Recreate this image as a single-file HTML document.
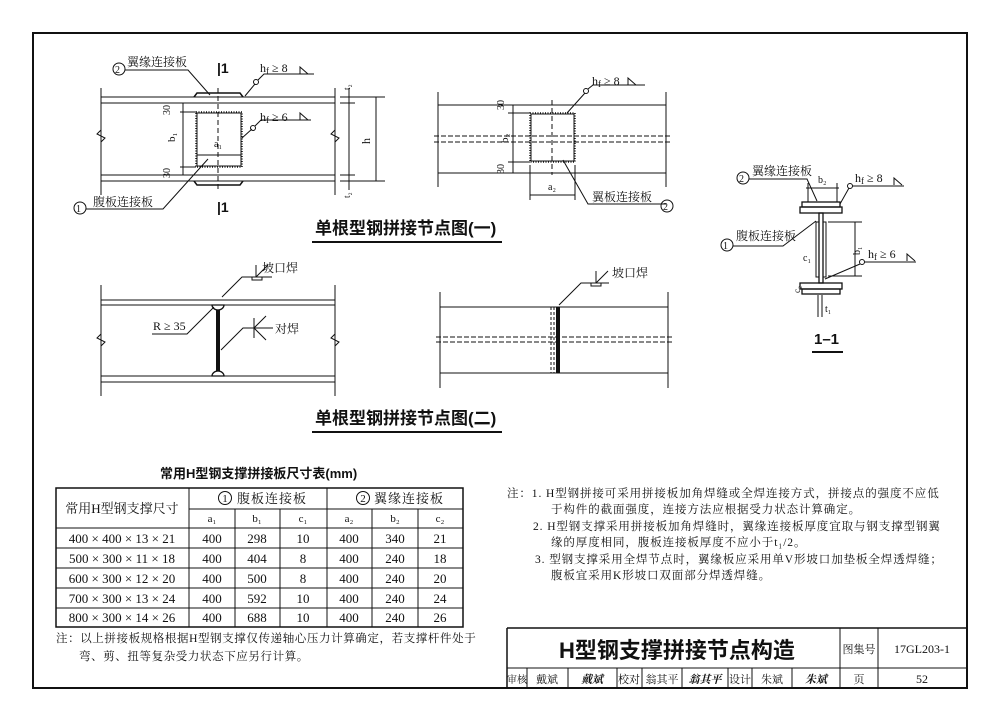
<!DOCTYPE html>
<html><head><meta charset="utf-8"><style>
body{margin:0;background:#fff}
svg{display:block}
text{font-family:"Liberation Serif","Noto Serif CJK SC","Noto Sans CJK SC",serif;fill:#111}
.s{font-family:"Liberation Sans","Noto Sans CJK SC",sans-serif}
</style></head><body>
<svg width="1000" height="721" viewBox="0 0 1000 721" xmlns="http://www.w3.org/2000/svg" stroke="#111" fill="none" stroke-width="1">
<rect x="33" y="33" width="934" height="655" stroke-width="2"/>

<!-- FIG 1 LEFT -->
<g>
<line x1="101" y1="97" x2="335" y2="97"/><line x1="101" y1="103" x2="335" y2="103"/>
<line x1="101" y1="175" x2="335" y2="175"/><line x1="101" y1="181" x2="335" y2="181"/>
<line x1="101" y1="88" x2="101" y2="195"/><line x1="335" y1="88" x2="335" y2="195"/>
<path d="M101 130 l-4 4 l8 4 l-4 4"/><path d="M335 130 l-4 4 l8 4 l-4 4"/>
<path d="M194 97 l3 -4 h43 l3 4" stroke-width="1.5"/><path d="M194 181 l3 4 h43 l3 -4" stroke-width="1.5"/>
<rect x="196" y="112" width="46" height="55" stroke-width="1.5" stroke-dasharray="1 1.5"/>
<rect x="197" y="113" width="44" height="53"/>
<line x1="218" y1="88" x2="218" y2="190" stroke-dasharray="5 3"/>
<line x1="183" y1="103" x2="183" y2="175"/>
<line x1="180" y1="112" x2="196" y2="112"/><line x1="180" y1="167" x2="196" y2="167"/>
<line x1="197" y1="155" x2="241" y2="155"/>
<text x="170" y="115" font-size="10" transform="rotate(-90 170 115)" stroke="none">30</text>
<text x="170" y="178" font-size="10" transform="rotate(-90 170 178)" stroke="none">30</text>
<text x="175" y="142" font-size="11" transform="rotate(-90 175 142)" stroke="none">b₁</text>
<text x="214" y="147" font-size="10" stroke="none">a₁</text>
<line x1="376" y1="97" x2="376" y2="181"/>
<line x1="340" y1="97" x2="385" y2="97"/><line x1="340" y1="181" x2="385" y2="181"/>
<line x1="340" y1="103" x2="355" y2="103"/><line x1="340" y1="175" x2="355" y2="175"/>
<line x1="349" y1="88" x2="349" y2="190"/>
<text x="370" y="144" font-size="12" transform="rotate(-90 370 144)" stroke="none">h</text>
<text x="350" y="90" font-size="9" transform="rotate(-90 350 90)" stroke="none">t₂</text>
<text x="350" y="198" font-size="9" transform="rotate(-90 350 198)" stroke="none">t₂</text>
<text x="217" y="73" font-size="14" stroke="none" class="s" font-weight="bold">|1</text>
<text x="217" y="212" font-size="14" stroke="none" class="s" font-weight="bold">|1</text>
<circle cx="119" cy="69" r="6"/><text x="115" y="73" font-size="10" stroke="none">2</text>
<text x="127" y="66" font-size="12" stroke="none">翼缘连接板</text>
<path d="M125 70 h63 l22 25"/>
<circle cx="256" cy="82" r="2.5"/><path d="M258 80 l6 -6 h50 M245 96 l10 -12"/><text x="260" y="72" font-size="12" stroke="none">h<tspan font-size="9" dy="2">f</tspan><tspan dy="-2"> ≥ 8</tspan></text><path d="M300 74 v-7 l8 7"/>
<circle cx="253" cy="128" r="2.5"/><path d="M255 126 l6 -6 h50 M242 138 l10 -9"/><text x="260" y="121" font-size="12" stroke="none">h<tspan font-size="9" dy="2">f</tspan><tspan dy="-2"> ≥ 6</tspan></text><path d="M300 120 v-7 l8 7"/>
<circle cx="80" cy="208" r="6"/><text x="76" y="212" font-size="10" stroke="none">1</text>
<text x="93" y="206" font-size="12" stroke="none">腹板连接板</text>
<path d="M86 209 h77 l45 -50"/>
</g>

<!-- FIG 1 RIGHT -->
<g>
<line x1="438" y1="105" x2="666" y2="105"/><line x1="438" y1="173" x2="666" y2="173"/>
<line x1="438" y1="92" x2="438" y2="187"/><line x1="666" y1="92" x2="666" y2="187"/>
<line x1="434" y1="136" x2="670" y2="136" stroke-dasharray="5 2"/><line x1="434" y1="142" x2="670" y2="142" stroke-dasharray="5 2"/>
<rect x="530" y="113" width="45" height="49" stroke-width="1.5" stroke-dasharray="1 1.5"/>
<rect x="531" y="114" width="43" height="47"/>
<line x1="552" y1="100" x2="552" y2="175" stroke-dasharray="5 3"/>
<line x1="513" y1="105" x2="513" y2="173"/>
<line x1="508" y1="113" x2="530" y2="113"/><line x1="508" y1="162" x2="530" y2="162"/>
<text x="504" y="110" font-size="10" transform="rotate(-90 504 110)" stroke="none">30</text>
<text x="504" y="174" font-size="10" transform="rotate(-90 504 174)" stroke="none">30</text>
<text x="508" y="143" font-size="11" transform="rotate(-90 508 143)" stroke="none">b₂</text>
<line x1="530" y1="195" x2="575" y2="195"/><line x1="530" y1="165" x2="530" y2="200"/><line x1="575" y1="165" x2="575" y2="200"/>
<text x="548" y="190" font-size="10" stroke="none">a₂</text>
<circle cx="586" cy="91" r="2.5"/><path d="M588 89 l5 -4 h52 M567 113 l18 -20"/><text x="592" y="85" font-size="12" stroke="none">h<tspan font-size="9" dy="2">f</tspan><tspan dy="-2"> ≥ 8</tspan></text><path d="M628 85 v-7 l8 7"/>
<path d="M563 160 l25 44 h78"/><text x="592" y="201" font-size="12" stroke="none">翼板连接板</text>
<circle cx="667" cy="206" r="6"/><text x="663" y="210" font-size="10" stroke="none">2</text>
</g>
<text x="315" y="234" font-size="17" class="s" stroke="none" font-weight="bold">单根型钢拼接节点图(一)</text>
<line x1="312" y1="242" x2="502" y2="242" stroke-width="2"/>

<!-- 1-1 -->
<g>
<rect x="802" y="202" width="38" height="5" stroke-width="1.3"/>
<rect x="800" y="207" width="42" height="6" stroke-width="1.3"/>
<rect x="819" y="213" width="4" height="70" stroke-width="1.3"/>
<rect x="816" y="222" width="3" height="55"/><rect x="823" y="222" width="3" height="55"/>
<rect x="800" y="283" width="42" height="6" stroke-width="1.3"/>
<rect x="802" y="289" width="38" height="5" stroke-width="1.3"/>
<line x1="808" y1="183" x2="808" y2="202"/><line x1="837" y1="183" x2="837" y2="202"/><line x1="806" y1="188" x2="839" y2="188"/>
<text x="818" y="183" font-size="10" stroke="none">b₂</text>
<circle cx="743" cy="178" r="6"/><text x="739" y="182" font-size="10" stroke="none">2</text>
<text x="752" y="175" font-size="12" stroke="none">翼缘连接板</text><path d="M749 179 h58 l10 22"/>
<circle cx="850" cy="186" r="2.5"/><path d="M852 186 h52 M840 204 l9 -16"/><text x="855" y="182" font-size="12" stroke="none">h<tspan font-size="9" dy="2">f</tspan><tspan dy="-2"> ≥ 8</tspan></text><path d="M894 185 v-7 l8 7"/>
<circle cx="727" cy="245" r="6"/><text x="723" y="249" font-size="10" stroke="none">1</text>
<text x="736" y="240" font-size="12" stroke="none">腹板连接板</text><path d="M733 246 h50 l33 -25"/>
<line x1="855" y1="222" x2="855" y2="276"/><line x1="828" y1="222" x2="862" y2="222"/><line x1="828" y1="276" x2="862" y2="276"/>
<text x="860" y="255" font-size="10" transform="rotate(-90 860 255)" stroke="none">b₁</text>
<circle cx="862" cy="262" r="2.5"/><path d="M864 262 h52 M825 279 l35 -15"/><text x="868" y="258" font-size="12" stroke="none">h<tspan font-size="9" dy="2">f</tspan><tspan dy="-2"> ≥ 6</tspan></text><path d="M907 261 v-7 l8 7"/>
<text x="803" y="261" font-size="10" stroke="none">c₁</text>
<text x="800" y="293" font-size="9" transform="rotate(-90 800 293)" stroke="none">c₂</text>
<line x1="818" y1="295" x2="818" y2="317"/><line x1="822" y1="295" x2="822" y2="317"/>
<text x="825" y="312" font-size="10" stroke="none">t₁</text>
<text x="814" y="344" font-size="15" class="s" stroke="none" font-weight="bold">1–1</text>
<line x1="812" y1="352" x2="843" y2="352" stroke-width="2"/>
</g>

<!-- FIG 2 LEFT -->
<g>
<line x1="101" y1="300" x2="335" y2="300"/><line x1="101" y1="305" x2="335" y2="305"/>
<line x1="101" y1="376" x2="335" y2="376"/><line x1="101" y1="382" x2="335" y2="382"/>
<line x1="101" y1="285" x2="101" y2="396"/><line x1="335" y1="285" x2="335" y2="396"/>
<path d="M101 334 l-4 4 l8 4 l-4 4"/><path d="M335 334 l-4 4 l8 4 l-4 4"/>
<line x1="218" y1="305" x2="218" y2="376" stroke-width="4"/>
<path d="M212 305 a6 5 0 0 0 12 0 z M212 376 a6 5 0 0 1 12 0 z" fill="#fff" stroke-width="1.3"/>
<path d="M222 297 l20 -20 h30 M256 277 v-12 M256 277 l12 -12"/><rect x="252" y="277" width="10" height="3"/>
<text x="262" y="272" font-size="12" stroke="none">坡口焊</text>
<path d="M152 334 h35 l27 -27"/><text x="153" y="330" font-size="12" stroke="none">R ≥ 35</text>
<path d="M221 350 l22 -22 h30 M254 328 l12 -12 M254 328 l12 12 M254 318 v20"/>
<text x="275" y="333" font-size="12" stroke="none">对焊</text>
</g>
<!-- FIG 2 RIGHT -->
<g>
<line x1="440" y1="307" x2="668" y2="307"/><line x1="440" y1="373" x2="668" y2="373"/>
<line x1="440" y1="292" x2="440" y2="388"/><line x1="668" y1="292" x2="668" y2="388"/>
<line x1="436" y1="337" x2="672" y2="337" stroke-dasharray="5 2"/><line x1="436" y1="342" x2="672" y2="342" stroke-dasharray="5 2"/>
<line x1="551" y1="307" x2="551" y2="373" stroke-dasharray="3 2"/><line x1="554" y1="307" x2="554" y2="373" stroke-dasharray="3 2"/>
<line x1="558" y1="307" x2="558" y2="373" stroke-width="4"/>
<path d="M559 305 l22 -22 h28 M596 283 v-12 M596 283 l12 -12"/><rect x="591" y="283" width="10" height="3"/>
<text x="612" y="277" font-size="12" stroke="none">坡口焊</text>
</g>
<text x="315" y="424" font-size="17" class="s" stroke="none" font-weight="bold">单根型钢拼接节点图(二)</text>
<line x1="312" y1="432" x2="502" y2="432" stroke-width="2"/>

<!-- TABLE -->
<text x="160" y="478" font-size="13" class="s" stroke="none" font-weight="bold">常用H型钢支撑拼接板尺寸表(mm)</text>
<rect x="56" y="488" width="407" height="139" stroke-width="1.5"/>
<g stroke-width="1">
<line x1="189" y1="509" x2="463" y2="509"/>
<line x1="56" y1="528" x2="463" y2="528"/><line x1="56" y1="548" x2="463" y2="548"/><line x1="56" y1="568" x2="463" y2="568"/><line x1="56" y1="588" x2="463" y2="588"/><line x1="56" y1="608" x2="463" y2="608"/>
<line x1="189" y1="488" x2="189" y2="627"/><line x1="327" y1="488" x2="327" y2="627"/>
<line x1="235" y1="509" x2="235" y2="627"/><line x1="280" y1="509" x2="280" y2="627"/><line x1="372" y1="509" x2="372" y2="627"/><line x1="418" y1="509" x2="418" y2="627"/>
</g>
<g stroke="none" font-size="12" text-anchor="middle">
<text x="122" y="513" font-size="13">常用H型钢支撑尺寸</text>
<circle cx="225" cy="498" r="6.5" stroke="#111" fill="none"/><text x="225" y="502" font-size="11">1</text><text x="272" y="503" font-size="13" letter-spacing="1">腹板连接板</text>
<circle cx="363" cy="498" r="6.5" stroke="#111" fill="none"/><text x="409" y="503" font-size="13" letter-spacing="1">翼缘连接板</text><text x="363" y="502" font-size="11">2</text>
<g font-size="11"><text x="212" y="522">a₁</text><text x="257" y="522">b₁</text><text x="303" y="522">c₁</text><text x="349" y="522">a₂</text><text x="395" y="522">b₂</text><text x="440" y="522">c₂</text></g>
<g font-size="13"><text x="122" y="543">400 × 400 × 13 × 21</text><text x="212" y="543">400</text><text x="257" y="543">298</text><text x="303" y="543">10</text><text x="349" y="543">400</text><text x="395" y="543">340</text><text x="440" y="543">21</text></g>
<g font-size="13"><text x="122" y="563">500 × 300 × 11 × 18</text><text x="212" y="563">400</text><text x="257" y="563">404</text><text x="303" y="563">8</text><text x="349" y="563">400</text><text x="395" y="563">240</text><text x="440" y="563">18</text></g>
<g font-size="13"><text x="122" y="583">600 × 300 × 12 × 20</text><text x="212" y="583">400</text><text x="257" y="583">500</text><text x="303" y="583">8</text><text x="349" y="583">400</text><text x="395" y="583">240</text><text x="440" y="583">20</text></g>
<g font-size="13"><text x="122" y="603">700 × 300 × 13 × 24</text><text x="212" y="603">400</text><text x="257" y="603">592</text><text x="303" y="603">10</text><text x="349" y="603">400</text><text x="395" y="603">240</text><text x="440" y="603">24</text></g>
<g font-size="13"><text x="122" y="622">800 × 300 × 14 × 26</text><text x="212" y="622">400</text><text x="257" y="622">688</text><text x="303" y="622">10</text><text x="349" y="622">400</text><text x="395" y="622">240</text><text x="440" y="622">26</text></g>
</g>
<g stroke="none" font-size="11.5" letter-spacing="0.6">
<text x="56" y="642">注：以上拼接板规格根据H型钢支撑仅传递轴心压力计算确定，若支撑杆件处于</text>
<text x="79" y="660">弯、剪、扭等复杂受力状态下应另行计算。</text>
</g>

<!-- NOTES -->
<g stroke="none" font-size="11.5" letter-spacing="0.9">
<text x="507" y="497">注：1. H型钢拼接可采用拼接板加角焊缝或全焊连接方式，拼接点的强度不应低</text>
<text x="551" y="513">于构件的截面强度，连接方法应根据受力状态计算确定。</text>
<text x="533" y="530">2. H型钢支撑采用拼接板加角焊缝时，翼缘连接板厚度宜取与钢支撑型钢翼</text>
<text x="551" y="546">缘的厚度相同，腹板连接板厚度不应小于t₁/2。</text>
<text x="535" y="563">3. 型钢支撑采用全焊节点时，翼缘板应采用单V形坡口加垫板全焊透焊缝；</text>
<text x="551" y="579">腹板宜采用K形坡口双面部分焊透焊缝。</text>
</g>

<!-- TITLE BLOCK -->
<g stroke-width="1.5">
<line x1="507" y1="628" x2="967" y2="628"/><line x1="507" y1="628" x2="507" y2="688"/>
<line x1="507" y1="668" x2="967" y2="668" stroke-width="1"/>
<line x1="840" y1="628" x2="840" y2="688" stroke-width="1"/><line x1="878" y1="628" x2="878" y2="688" stroke-width="1"/>
</g>
<g stroke-width="1">
<line x1="527" y1="668" x2="527" y2="688"/><line x1="568" y1="668" x2="568" y2="688"/><line x1="617" y1="668" x2="617" y2="688"/><line x1="642" y1="668" x2="642" y2="688"/><line x1="682" y1="668" x2="682" y2="688"/><line x1="728" y1="668" x2="728" y2="688"/><line x1="752" y1="668" x2="752" y2="688"/><line x1="792" y1="668" x2="792" y2="688"/>
</g>
<g stroke="none">
<text x="677" y="658" font-size="22" text-anchor="middle" class="s" font-weight="bold">H型钢支撑拼接节点构造</text>
<text x="859" y="653" font-size="11" text-anchor="middle">图集号</text>
<text x="922" y="653" font-size="12" text-anchor="middle">17GL203-1</text>
<g font-size="11" text-anchor="middle">
<text x="517" y="683" font-size="10">审核</text><text x="547" y="683">戴斌</text><text x="592" y="683" font-style="italic" font-weight="bold">戴斌</text>
<text x="629" y="683">校对</text><text x="662" y="683">翁其平</text><text x="705" y="683" font-style="italic" font-weight="bold">翁其平</text>
<text x="740" y="683">设计</text><text x="772" y="683">朱斌</text><text x="816" y="683" font-style="italic" font-weight="bold">朱斌</text>
<text x="859" y="683">页</text><text x="922" y="683" font-size="12">52</text>
</g>
</g>
</svg>
</body></html>
